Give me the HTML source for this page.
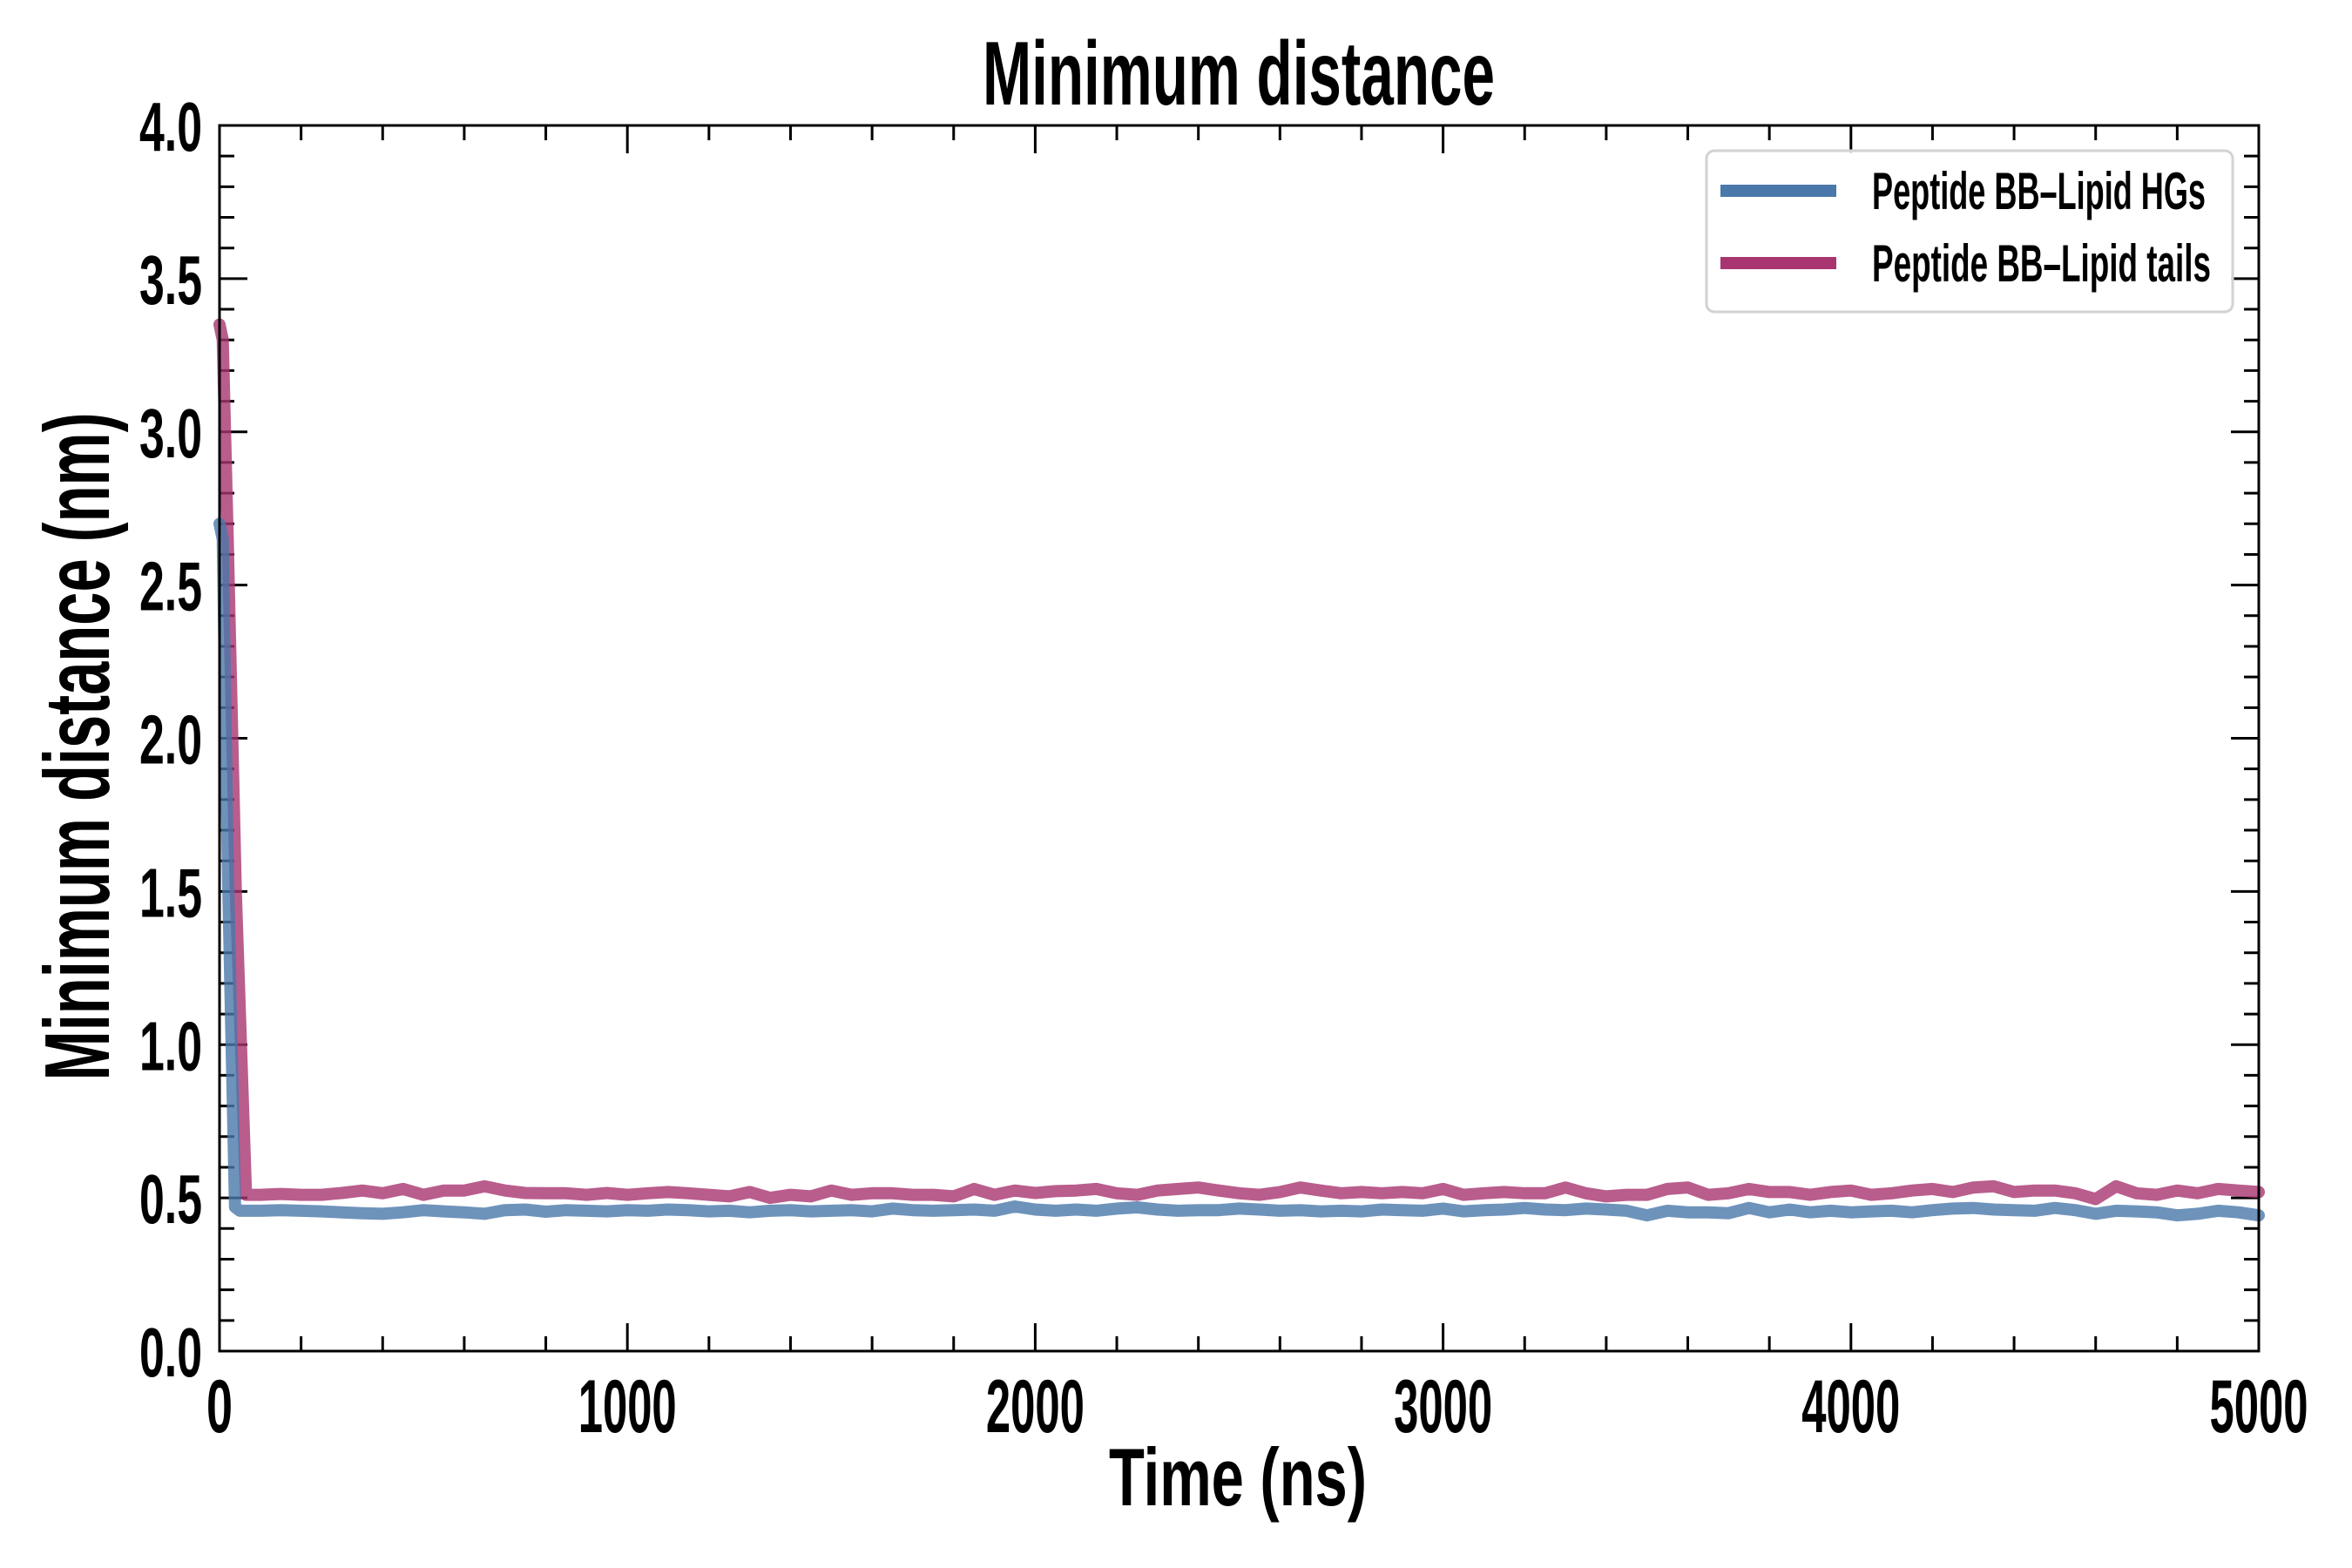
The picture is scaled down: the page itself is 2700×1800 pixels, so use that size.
<!DOCTYPE html>
<html><head><meta charset="utf-8"><style>
html,body{margin:0;padding:0;background:#fff;}
svg{display:block;}
text{font-family:"Liberation Sans Narrow","Liberation Sans",sans-serif;font-weight:bold;fill:#000;}
</style></head><body>
<svg id="chart" width="2700" height="1800" viewBox="0 0 2700 1800" xmlns="http://www.w3.org/2000/svg">
<rect x="0" y="0" width="2700" height="1800" fill="#fff"/>
<text x="1422" y="120" font-size="104" text-anchor="middle" textLength="588" lengthAdjust="spacingAndGlyphs">Minimum distance</text>
<text x="1421" y="1728" font-size="94" text-anchor="middle" textLength="296" lengthAdjust="spacingAndGlyphs">Time (ns)</text>
<text transform="translate(125,857) rotate(-90)" x="0" y="0" font-size="106" text-anchor="middle" textLength="767" lengthAdjust="spacingAndGlyphs">Minimum distance (nm)</text>
<g id="ticks"></g>
<g id="series"></g>
<rect x="252" y="144" width="2341" height="1407" fill="none" stroke="#000" stroke-width="3"/>
<g>
<rect x="1959" y="173" width="604" height="185" rx="9" fill="#fff" fill-opacity="0.85" stroke="#d2d2d2" stroke-width="3"/>
<line x1="1975" y1="219" x2="2108" y2="219" stroke="#4a78aa" stroke-width="14"/>
<text x="2149" y="240" font-size="60" textLength="383" lengthAdjust="spacingAndGlyphs">Peptide BB–Lipid HGs</text>
<line x1="1975" y1="302" x2="2108" y2="302" stroke="#a83570" stroke-width="14"/>
<text x="2149" y="323" font-size="60" textLength="389" lengthAdjust="spacingAndGlyphs">Peptide BB–Lipid tails</text>
</g>
</svg>
<script>
const xTickLabels = ["0","1000","2000","3000","4000","5000"];
const yTickLabels = ["0.0","0.5","1.0","1.5","2.0","2.5","3.0","3.5","4.0"];
const hgsEarlyTimes = [0, 8, 20, 38];
const hgsEarlyValues = [2.70, 2.65, 1.60, 0.47];
const tailsEarlyTimes = [0, 8, 20, 40, 65];
const tailsEarlyValues = [3.35, 3.30, 2.65, 1.50, 0.51];
const hgsValues = [0.458,0.458,0.460,0.458,0.456,0.453,0.450,0.448,0.453,0.460,0.456,0.453,0.448,0.460,0.462,0.455,0.460,0.458,0.456,0.460,0.458,0.462,0.460,0.456,0.458,0.453,0.458,0.460,0.456,0.458,0.460,0.456,0.465,0.460,
0.458,0.460,0.462,0.458,0.472,0.462,0.458,0.462,0.458,0.465,0.469,0.462,0.458,0.460,0.460,0.465,0.462,0.458,0.460,0.456,0.458,0.456,0.462,0.460,0.458,0.465,0.456,0.460,0.462,0.467,0.462,0.460,0.465,
0.462,0.458,0.443,0.458,0.453,0.453,0.450,0.467,0.453,0.462,0.453,0.458,0.453,0.456,0.458,0.453,0.460,0.465,0.467,0.462,0.460,0.458,0.467,0.460,0.448,0.458,0.456,0.453,0.443,0.448,0.458,0.453,0.443];
const tailsValues = [0.510,0.510,0.513,0.510,0.510,0.516,0.524,0.515,0.529,0.510,0.524,0.524,0.538,0.524,0.516,0.515,0.515,0.510,0.516,0.510,0.515,0.519,0.515,0.510,0.505,0.519,0.500,0.510,0.505,0.524,0.510,0.515,0.515,0.510,
0.510,0.505,0.529,0.510,0.524,0.516,0.522,0.524,0.529,0.515,0.510,0.524,0.529,0.534,0.524,0.515,0.510,0.519,0.534,0.524,0.515,0.519,0.515,0.519,0.515,0.529,0.510,0.515,0.519,0.515,0.515,0.534,0.515,
0.505,0.510,0.510,0.529,0.534,0.510,0.515,0.529,0.519,0.519,0.510,0.519,0.524,0.510,0.515,0.524,0.529,0.519,0.534,0.538,0.519,0.524,0.524,0.515,0.496,0.538,0.515,0.510,0.524,0.515,0.529,0.524,0.519];

const NS = "http://www.w3.org/2000/svg";
const L = 252, R = 2593, T = 144, B = 1551;
const XMAX = 5000, YMAX = 4.0;
function sx(t){ return L + (t / XMAX) * (R - L); }
function sy(v){ return B - (v / YMAX) * (B - T); }
function mk(tag, attrs){ const e = document.createElementNS(NS, tag); for (const k in attrs) e.setAttribute(k, attrs[k]); return e; }

const ticks = document.getElementById('ticks');
for (let i = 0; i <= 25; i++) {
  const t = i * 200, x = sx(t), major = (i % 5 === 0), len = major ? 32 : 17;
  const b = mk('line', {x1:x, y1:B, x2:x, y2:B - len, stroke:'#000', 'stroke-width':3});
  
  
  ticks.appendChild(b);
  const tp = mk('line', {x1:x, y1:T, x2:x, y2:T + len, stroke:'#000', 'stroke-width':3});
  
  
  ticks.appendChild(tp);
}
xTickLabels.forEach(function(lab, i){
  const x = sx(i * 1000);
  const w = lab.length === 1 ? 30 : 113;
  const tx = mk('text', {x:x, y:1644, 'font-size':86, 'text-anchor':'middle', textLength:w, lengthAdjust:'spacingAndGlyphs'});
  tx.textContent = lab;
  
  
  ticks.appendChild(tx);
});
for (let i = 0; i <= 40; i++) {
  const v = i * 0.1, y = sy(v), major = (i % 5 === 0), len = major ? 32 : 17;
  const l = mk('line', {x1:L, y1:y, x2:L + len, y2:y, stroke:'#000', 'stroke-width':3});
  
  
  ticks.appendChild(l);
  const r = mk('line', {x1:R, y1:y, x2:R - len, y2:y, stroke:'#000', 'stroke-width':3});
  
  
  ticks.appendChild(r);
}
yTickLabels.forEach(function(lab, i){
  const y = sy(i * 0.5);
  const tx = mk('text', {x:232, y:y + 29, 'font-size':80, 'text-anchor':'end', textLength:72, lengthAdjust:'spacingAndGlyphs'});
  tx.textContent = lab;
  
  
  ticks.appendChild(tx);
});

const series = document.getElementById('series');
function buildPath(earlyT, earlyV, vals){
  const pts = [];
  earlyT.forEach(function(t, i){ pts.push([sx(t), sy(earlyV[i])]); });
  const start = earlyT[earlyT.length - 1];
  vals.forEach(function(v, i){
    const t = 50 + i * 50;
    if (t > start) pts.push([sx(t), sy(v)]);
  });
  return 'M' + pts.map(function(p){ return p[0].toFixed(1) + ',' + p[1].toFixed(1); }).join(' L');
}
const pTails = mk('path', {d: buildPath(tailsEarlyTimes, tailsEarlyValues, tailsValues), fill:'none', stroke:'#a83570', 'stroke-opacity':0.8, 'stroke-width':14, 'stroke-linejoin':'round', 'stroke-linecap':'round'});


series.appendChild(pTails);
const pHgs = mk('path', {d: buildPath(hgsEarlyTimes, hgsEarlyValues, hgsValues), fill:'none', stroke:'#4a78aa', 'stroke-opacity':0.8, 'stroke-width':14, 'stroke-linejoin':'round', 'stroke-linecap':'round'});


series.appendChild(pHgs);
</script>
</body></html>
